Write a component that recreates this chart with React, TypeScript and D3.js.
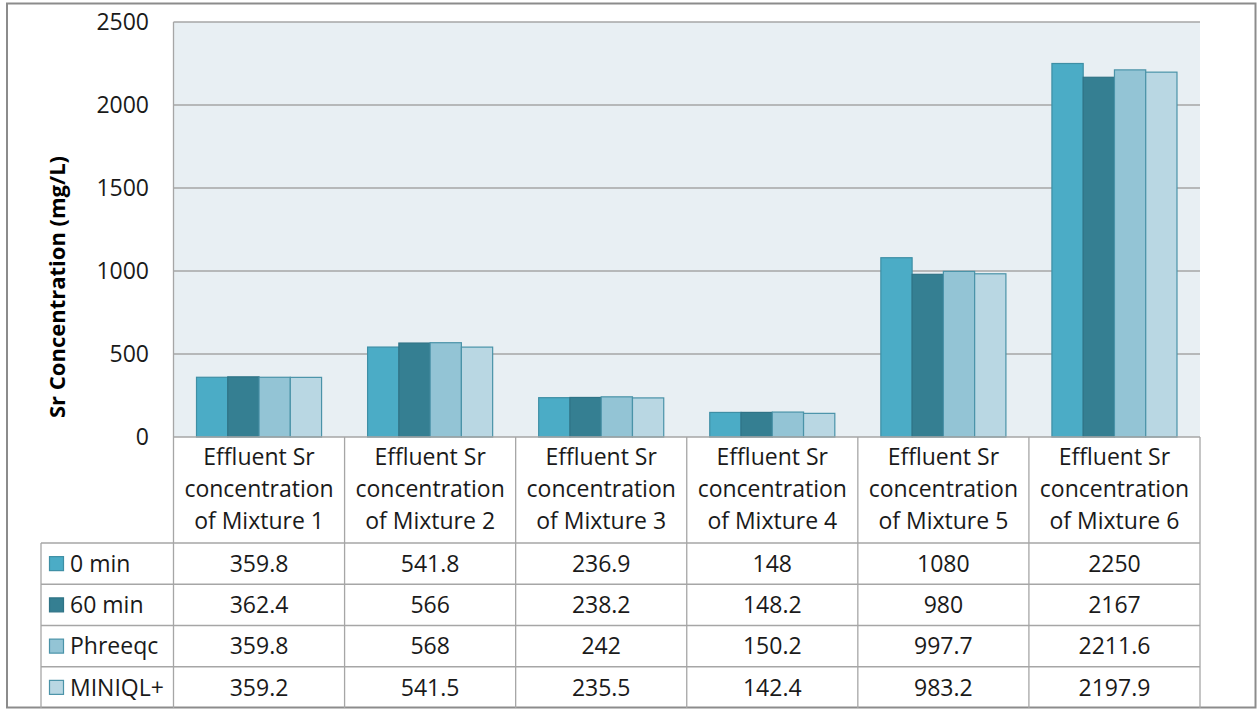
import React from "react";
import * as d3 from "d3";

const categories = [
  ["Effluent Sr", "concentration", "of Mixture 1"],
  ["Effluent Sr", "concentration", "of Mixture 2"],
  ["Effluent Sr", "concentration", "of Mixture 3"],
  ["Effluent Sr", "concentration", "of Mixture 4"],
  ["Effluent Sr", "concentration", "of Mixture 5"],
  ["Effluent Sr", "concentration", "of Mixture 6"],
];
const seriesNames = ["0 min", "60 min", "Phreeqc", "MINIQL+"];
const min0 = [359.8, 541.8, 236.9, 148, 1080, 2250];
const min60 = [362.4, 566, 238.2, 148.2, 980, 2167];
const phreeqc = [359.8, 568, 242, 150.2, 997.7, 2211.6];
const miniql = [359.2, 541.5, 235.5, 142.4, 983.2, 2197.9];
const seriesLabels = [
  ["359.8", "541.8", "236.9", "148", "1080", "2250"],
  ["362.4", "566", "238.2", "148.2", "980", "2167"],
  ["359.8", "568", "242", "150.2", "997.7", "2211.6"],
  ["359.2", "541.5", "235.5", "142.4", "983.2", "2197.9"],
];
const yTicks = [0, 500, 1000, 1500, 2000, 2500];
const yTitle = "Sr Concentration (mg/L)";

const seriesValues = [min0, min60, phreeqc, miniql];
const fills = ["#4BACC6", "#357F92", "#93C4D5", "#B9D7E3"];
const strokes = ["#3E8FA5", "#2F7386", "#4A93A8", "#4A93A8"];

const W = 1258;
const H = 710;
const plotL = 173.5;
const plotR = 1200;
const plotT = 22;
const plotB = 437;
const headerB = 543;
const tableB = 708;
const legendL = 41;
const FONT = "'Open Sans', sans-serif";
const textColor = "#1A1A1A";
const gridColor = "#A6A6A6";
const FS = 23;

export default function App() {
  const idx = categories.map((_, i) => String(i));
  const x = d3.scaleBand<string>().domain(idx).range([plotL, plotR]).padding(0);
  const bw = x.bandwidth();
  const pad = (23 / 171) * bw;
  const x1 = d3
    .scaleBand<string>()
    .domain(seriesNames)
    .range([pad, bw - pad])
    .padding(0);
  const y = d3.scaleLinear().domain([0, 2500]).range([plotB, plotT]);
  const rowY = d3
    .scaleBand<string>()
    .domain(seriesNames)
    .range([headerB, tableB])
    .padding(0);
  const rh = rowY.bandwidth();

  return (
    <svg
      width={W}
      height={H}
      style={{ position: "absolute", left: 0, top: 0, background: "#fff" }}
      fontFamily={FONT}
    >
      <rect x={0} y={0} width={W} height={H} fill="#fff" />
      <rect x={7} y={3.5} width={1248.5} height={704} fill="none" stroke="#8C8C8C" strokeWidth={2} />
      {/* plot background */}
      <rect x={plotL} y={plotT} width={plotR - plotL} height={plotB - plotT} fill="#E8EFF3" />
      {/* gridlines */}
      {yTicks.filter((t) => t > 0).map((t) => (
        <line key={t} x1={plotL} x2={plotR} y1={y(t)} y2={y(t)} stroke={gridColor} strokeWidth={1.3} />
      ))}
      <line x1={plotL} x2={plotL} y1={plotT} y2={plotB} stroke={gridColor} strokeWidth={1.3} />
      {/* tick labels */}
      {yTicks.map((t) => (
        <text
          key={t}
          x={149}
          y={y(t)}
          dy="0.36em"
          textAnchor="end"
          fontSize={FS}
          fill={textColor}
        >
          {t}
        </text>
      ))}
      {/* y title */}
      <text
        transform={`translate(65, ${287}) rotate(-90)`}
        textAnchor="middle"
        fontSize={22}
        fontWeight="bold"
        fill="#000"
      >
        {yTitle}
      </text>
      {/* bars */}
      {idx.map((c, ci) =>
        seriesNames.map((s, si) => {
          const v = seriesValues[si][ci];
          const bx = (x(c) as number) + (x1(s) as number);
          return (
            <rect
              key={c + s}
              x={bx}
              y={y(v)}
              width={x1.bandwidth()}
              height={plotB - y(v)}
              fill={fills[si]}
              stroke={strokes[si]}
              strokeWidth={1.2}
            />
          );
        })
      )}
      {/* table grid */}
      <line x1={plotL} x2={plotR} y1={plotB} y2={plotB} stroke={gridColor} strokeWidth={1.3} />
      {seriesNames.map((s) => (
        <line
          key={"h" + s}
          x1={legendL}
          x2={plotR}
          y1={rowY(s) as number}
          y2={rowY(s) as number}
          stroke={gridColor}
          strokeWidth={1.3}
        />
      ))}
      <line x1={legendL} x2={legendL} y1={headerB} y2={tableB} stroke={gridColor} strokeWidth={1.3} />
      {idx.map((c) => (
        <line
          key={"v" + c}
          x1={x(c) as number}
          x2={x(c) as number}
          y1={plotB}
          y2={tableB}
          stroke={gridColor}
          strokeWidth={1.3}
        />
      ))}
      <line x1={plotR} x2={plotR} y1={plotB} y2={tableB} stroke={gridColor} strokeWidth={1.3} />
      {/* category labels */}
      {idx.map((c, ci) => (
        <text
          key={"cat" + c}
          x={(x(c) as number) + bw / 2}
          textAnchor="middle"
          fontSize={FS}
          fill={textColor}
        >
          {categories[ci].map((line, li) => (
            <tspan key={li} x={(x(c) as number) + bw / 2} y={465 + li * 32}>
              {line}
            </tspan>
          ))}
        </text>
      ))}
      {/* legend keys and values */}
      {seriesNames.map((s, si) => {
        const ry = rowY(s) as number;
        const cy = ry + rh / 2;
        return (
          <g key={"row" + s}>
            <rect x={49.5} y={cy - 7} width={14} height={14} fill={fills[si]} stroke={strokes[si]} strokeWidth={1.2} />
            <text x={70} y={cy} dy="0.36em" fontSize={FS} fill={textColor}>
              {s}
            </text>
            {idx.map((c, ci) => (
              <text
                key={c}
                x={(x(c) as number) + bw / 2}
                y={cy}
                dy="0.36em"
                textAnchor="middle"
                fontSize={FS}
                fill={textColor}
              >
                {seriesLabels[si][ci]}
              </text>
            ))}
          </g>
        );
      })}
    </svg>
  );
}
